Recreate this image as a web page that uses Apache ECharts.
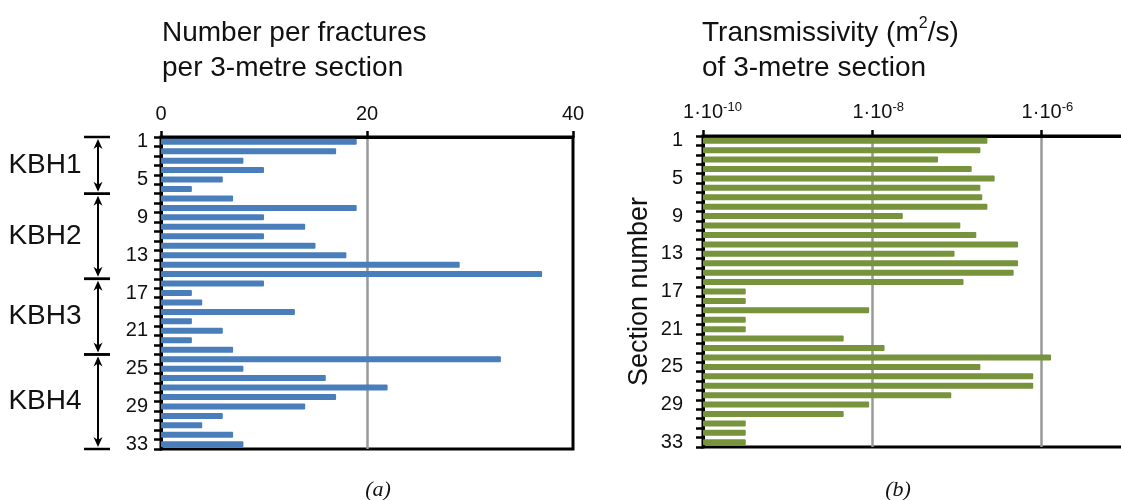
<!DOCTYPE html>
<html>
<head>
<meta charset="utf-8">
<script src="https://cdn.jsdelivr.net/npm/echarts@6/dist/echarts.min.js"></script>
<style>
  html, body { margin: 0; padding: 0; background: #fff; }
  #chart { width: 1121px; height: 500px; }
</style>
</head>
<body>
<div id="chart"></div>
<script>
// section numbers 1..33
const sections = ["1","2","3","4","5","6","7","8","9","10","11","12","13","14","15","16","17",
  "18","19","20","21","22","23","24","25","26","27","28","29","30","31","32","33"];

// (a) number of fractures per 3-metre section
const fractures = [19, 17, 8, 10, 6, 3, 7, 19, 10, 14, 10, 15, 18, 29, 37, 10, 3,
  4, 13, 3, 6, 3, 7, 33, 8, 16, 22, 17, 14, 6, 4, 7, 8];

// (b) transmissivity (m2/s) of 3-metre section
const transmissivity = [2.3e-7, 1.9e-7, 6e-8, 1.5e-7, 2.8e-7, 1.9e-7, 2e-7, 2.3e-7, 2.3e-8,
  1.1e-7, 1.7e-7, 5.3e-7, 9.4e-8, 5.3e-7, 4.7e-7, 1.2e-7, 3.2e-10, 3.2e-10, 9.2e-9,
  3.2e-10, 3.2e-10, 4.6e-9, 1.4e-8, 1.3e-6, 1.9e-7, 8e-7, 8e-7, 8.6e-8, 9.2e-9,
  4.6e-9, 3.2e-10, 3.2e-10, 3.2e-10];

// boreholes: first and last section index (0-based)
const boreholes = ["KBH1", "KBH2", "KBH3", "KBH4"];
const boreFirst = [0, 6, 15, 23];
const boreLast = [5, 14, 22, 32];

const font = "Liberation Sans";
const black = "#000";
const gridGray = "#999";

let chart = echarts.init(document.getElementById("chart"));

function bracketItem(params, api) {
  let band = api.size([0, 1])[1];
  let top = api.coord([0, api.value(1)])[1] - band / 2;
  let bottom = api.coord([0, api.value(2)])[1] + band / 2;
  let x0 = api.coord([0, 0])[0];
  let ax = x0 - 63;
  let lineStyle = { stroke: black, lineWidth: 2.5 };
  return {
    type: "group",
    children: [
      { type: "line", shape: { x1: x0 - 77, y1: top, x2: x0 - 51, y2: top }, style: lineStyle },
      { type: "line", shape: { x1: x0 - 77, y1: bottom, x2: x0 - 51, y2: bottom }, style: lineStyle },
      { type: "line", shape: { x1: ax, y1: top + 4, x2: ax, y2: bottom - 4 }, style: { stroke: black, lineWidth: 2 } },
      { type: "polygon", shape: { points: [[ax, top + 2], [ax - 4.5, top + 12], [ax, top + 9], [ax + 4.5, top + 12]] }, style: { fill: black } },
      { type: "polygon", shape: { points: [[ax, bottom - 2], [ax - 4.5, bottom - 12], [ax, bottom - 9], [ax + 4.5, bottom - 12]] }, style: { fill: black } },
      {
        type: "text",
        style: {
          text: boreholes[params.dataIndex],
          x: x0 - 116, y: (top + bottom) / 2,
          align: "center", verticalAlign: "middle",
          fontFamily: font, fontSize: 28, fill: "#111",
        },
      },
    ],
  };
}

let option = {
  animation: false,
  textStyle: { fontFamily: font, color: black },
  title: [
    {
      text: "Number per fractures\nper 3-metre section",
      left: 157, top: 11,
      textStyle: { fontFamily: font, fontSize: 28, fontWeight: "normal", color: "#111", lineHeight: 35 },
    },
    {
      text: "{t|Transmissivity (m}{s|2}{t|/s)}\n{t|of 3-metre section}",
      left: 697, top: 11,
      textStyle: {
        fontFamily: font, fontSize: 28, fontWeight: "normal", color: "#111", lineHeight: 35,
        rich: {
          t: { fontFamily: font, fontSize: 28, color: "#111", lineHeight: 35 },
          s: { fontFamily: font, fontSize: 16, color: "#111", verticalAlign: "top", lineHeight: 35, padding: [0, 0, 12, 0] },
        },
      },
    },
    {
      text: "(a)", left: 373, top: 474, textAlign: "center",
      textStyle: { fontFamily: "Liberation Serif", fontStyle: "italic", fontSize: 22, fontWeight: "normal", color: "#111" },
    },
    {
      text: "(b)", left: 893, top: 474, textAlign: "center",
      textStyle: { fontFamily: "Liberation Serif", fontStyle: "italic", fontSize: 22, fontWeight: "normal", color: "#111" },
    },
  ],
  grid: [
    { left: 161, top: 137, width: 412, height: 312, show: true, borderColor: black, borderWidth: 3, outerBoundsMode: "none", containLabel: false },
    { left: 703, top: 136, width: 423, height: 311, show: true, borderColor: black, borderWidth: 3, outerBoundsMode: "none", containLabel: false },
  ],
  xAxis: [
    {
      gridIndex: 0, type: "value", position: "top", min: 0, max: 40, interval: 20,
      axisLine: { show: true, lineStyle: { color: black, width: 3 } },
      axisTick: { show: true, length: 6, lineStyle: { color: black, width: 2.5 } },
      axisLabel: { fontSize: 20, color: "#111", margin: 13, fontFamily: font },
      splitLine: { show: true, showMinLine: false, showMaxLine: false, lineStyle: { color: gridGray, width: 2.5 } },
    },
    {
      gridIndex: 1, type: "log", position: "top", min: 1e-10, max: 1e-5, interval: 2, startValue: 1e-10,
      axisLine: { show: true, lineStyle: { color: black, width: 3 } },
      axisTick: { show: true, length: 6, lineStyle: { color: black, width: 2.5 } },
      axisLabel: {
        margin: 13, color: "#111", showMaxLabel: false,
        formatter: function (value) {
          let e = Math.round(Math.log10(value));
          if (e > -6) return "";
          let pad = e <= -10 ? "{p2| }" : "{p1| }";
          return pad + "{b|1·10}{s|" + e + "}";
        },
        rich: {
          b: { fontFamily: font, fontSize: 20, color: "#111", lineHeight: 22 },
          s: { fontFamily: font, fontSize: 13, color: "#111", verticalAlign: "top", lineHeight: 22, padding: [0, 0, 9, 0] },
          p1: { width: 12, fontSize: 13 },
          p2: { width: 19, fontSize: 13 },
        },
      },
      splitLine: { show: true, showMinLine: false, lineStyle: { color: gridGray, width: 2.5 } },
    },
  ],
  yAxis: [
    {
      gridIndex: 0, type: "category", data: sections, inverse: true,
      axisLine: { show: true, lineStyle: { color: black, width: 3 } },
      axisTick: { show: true, interval: 0, length: 7, lineStyle: { color: black, width: 2.5 } },
      axisLabel: { interval: 3, fontSize: 20, color: "#111", margin: 13, fontFamily: font },
    },
    {
      gridIndex: 1, type: "category", data: sections, inverse: true,
      name: "Section number", nameLocation: "middle", nameRotate: 90, nameGap: 50,
      nameTextStyle: { fontFamily: font, fontSize: 27, color: "#111" },
      axisLine: { show: true, lineStyle: { color: black, width: 3 } },
      axisTick: { show: true, interval: 0, length: 7, lineStyle: { color: black, width: 2.5 } },
      axisLabel: { interval: 3, fontSize: 20, color: "#111", margin: 20, fontFamily: font },
    },
  ],
  series: [
    {
      type: "bar", xAxisIndex: 0, yAxisIndex: 0, data: fractures, barWidth: 6,
      itemStyle: { color: "#4a7ebb", borderRadius: 1 },
    },
    {
      type: "bar", xAxisIndex: 1, yAxisIndex: 1, data: transmissivity, barWidth: 6,
      itemStyle: { color: "#77933c", borderRadius: 1 },
    },
    {
      type: "custom", xAxisIndex: 0, yAxisIndex: 0, clip: false, silent: true,
      encode: { x: 0, y: 1 },
      data: boreholes.map((b, i) => [0, boreFirst[i], boreLast[i]]),
      renderItem: bracketItem,
    },
  ],
};

chart.setOption(option);
</script>
</body>
</html>
